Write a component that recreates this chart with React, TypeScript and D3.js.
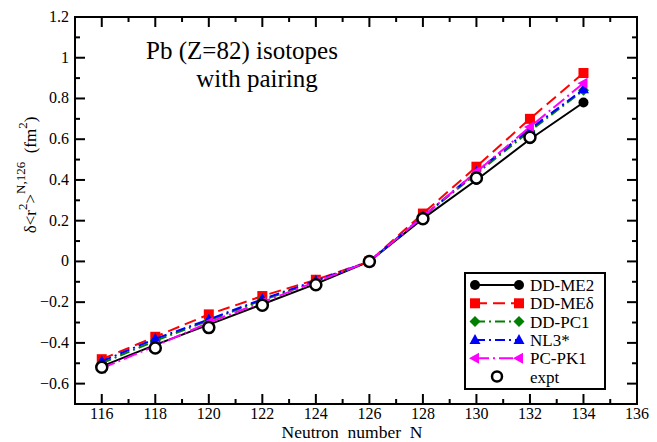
import React from "react";
import * as d3 from "d3";

const neutrons = [116, 118, 120, 122, 124, 126, 128, 130, 132, 134];
const ddme2 = [-0.515, -0.41, -0.31, -0.21, -0.11, 0, 0.21, 0.4, 0.6, 0.78];
const ddmed = [-0.48, -0.37, -0.26, -0.17, -0.09, 0, 0.235, 0.465, 0.7, 0.925];
const ddpc1 = [-0.5, -0.39, -0.29, -0.19, -0.1, 0, 0.22, 0.43, 0.64, 0.84];
const nl3s = [-0.49, -0.38, -0.285, -0.185, -0.095, 0, 0.22, 0.44, 0.65, 0.845];
const pcpk1 = [-0.525, -0.415, -0.3, -0.2, -0.1, 0, 0.22, 0.44, 0.66, 0.875];
const exptN = [116, 118, 120, 122, 124, 126, 128, 130, 132];
const expt = [-0.52, -0.425, -0.325, -0.215, -0.115, 0, 0.21, 0.41, 0.61];
const xTicks = [116, 118, 120, 122, 124, 126, 128, 130, 132, 134, 136];
const yTicks = [-0.6, -0.4, -0.2, 0, 0.2, 0.4, 0.6, 0.8, 1, 1.2];

type Series = { name: string; values: number[]; color: string; dash: string; marker: string };
const series: Series[] = [
  { name: "DD-ME2", values: ddme2, color: "#000000", dash: "", marker: "circle" },
  { name: "DD-MEδ", values: ddmed, color: "#ff0000", dash: "12,6", marker: "square" },
  { name: "DD-PC1", values: ddpc1, color: "#008000", dash: "10,4,2,4", marker: "diamond" },
  { name: "NL3*", values: nl3s, color: "#0000ff", dash: "10,4,2,4", marker: "triangle" },
  { name: "PC-PK1", values: pcpk1, color: "#ff00ff", dash: "14,4,2,4", marker: "left" },
];

const W = 657, H = 442;
const L = 75, R = 637, T = 17, B = 404;
const x = d3.scaleLinear().domain([115, 136]).range([L, R]);
const y = d3.scaleLinear().domain([-0.7, 1.2]).range([B, T]);

function Marker({ type, cx, cy, color }: { type: string; cx: number; cy: number; color: string }) {
  if (type === "circle") return <circle cx={cx} cy={cy} r={5} fill={color} />;
  if (type === "square") return <rect x={cx - 5} y={cy - 5} width={10} height={10} fill={color} />;
  if (type === "diamond") return <path d={`M${cx},${cy - 5.5}L${cx + 5.5},${cy}L${cx},${cy + 5.5}L${cx - 5.5},${cy}Z`} fill={color} />;
  if (type === "triangle") return <path d={`M${cx},${cy - 6}L${cx + 5.5},${cy + 4}L${cx - 5.5},${cy + 4}Z`} fill={color} />;
  if (type === "left") return <path d={`M${cx - 6},${cy}L${cx + 4},${cy - 5.5}L${cx + 4},${cy + 5.5}Z`} fill={color} />;
  return null;
}

export default function App() {
  const line = d3.line<[number, number]>().x((d) => x(d[0])).y((d) => y(d[1]));
  const xMinor = d3.range(115, 137, 1);
  const yMinor = d3.range(-7, 13).map((v) => v / 10);
  const font = "Liberation Serif, Times New Roman, serif";
  const legX = 465, legY = 273, legW = 140, legH = 116;
  const legendItems = [...series, { name: "expt", values: [], color: "#000", dash: "", marker: "expt" }];
  return (
    <svg width={W} height={H} style={{ position: "absolute", left: 0, top: 0, background: "#fff", fontFamily: font }}>
      <rect width={W} height={H} fill="#fff" />
      {series.map((s) => (
        <g key={s.name}>
          <path
            d={line(neutrons.map((n, i) => [n, s.values[i]] as [number, number])) || ""}
            fill="none"
            stroke={s.color}
            strokeWidth={2}
            strokeDasharray={s.dash || undefined}
          />
          {neutrons.map((n, i) => (
            <Marker key={n} type={s.marker} cx={x(n)} cy={y(s.values[i])} color={s.color} />
          ))}
        </g>
      ))}
      {exptN.map((n, i) => (
        <circle key={n} cx={x(n)} cy={y(expt[i])} r={5.5} fill="#fff" stroke="#000" strokeWidth={2.5} />
      ))}
      <rect x={L} y={T} width={R - L} height={B - T} fill="none" stroke="#000" strokeWidth={2} />
      {xMinor.map((v) => {
        const major = v % 2 === 0;
        const len = major ? 10 : 5;
        return (
          <g key={"x" + v}>
            <line x1={x(v)} x2={x(v)} y1={B} y2={B - len} stroke="#000" strokeWidth={2} />
            <line x1={x(v)} x2={x(v)} y1={T} y2={T + len} stroke="#000" strokeWidth={2} />
          </g>
        );
      })}
      {yMinor.map((v, i) => {
        const major = Math.round(v * 10) % 2 === 0;
        const len = major ? 10 : 5;
        return (
          <g key={"y" + i}>
            <line x1={L} x2={L + len} y1={y(v)} y2={y(v)} stroke="#000" strokeWidth={2} />
            <line x1={R} x2={R - len} y1={y(v)} y2={y(v)} stroke="#000" strokeWidth={2} />
          </g>
        );
      })}
      {xTicks.map((v) => (
        <text key={"xl" + v} x={x(v)} y={419} textAnchor="middle" fontSize={16}>
          {v}
        </text>
      ))}
      {yTicks.map((v) => (
        <text key={"yl" + v} x={L - 6} y={y(v) + 5} textAnchor="end" fontSize={16}>
          {d3.format("")(Math.round(v * 10) / 10)}
        </text>
      ))}
      <text x={352} y={438} textAnchor="middle" fontSize={17.5} xmlSpace="preserve">
        Neutron  number  N
      </text>
      <g transform={`translate(36, 175) rotate(-90)`}>
        <text textAnchor="middle" fontSize={17} xmlSpace="preserve">
          <tspan>δ&lt;r</tspan>
          <tspan dy={-9} fontSize={13}>2</tspan>
          <tspan dy={9}>&gt;</tspan>
          <tspan dy={-11} fontSize={13}>N,126</tspan>
          <tspan dy={11}>  (fm</tspan>
          <tspan dy={-9} fontSize={13}>2</tspan>
          <tspan dy={9}>)</tspan>
        </text>
      </g>
      <text x={242} y={59} textAnchor="middle" fontSize={25}>Pb (Z=82) isotopes</text>
      <text x={257} y={87} textAnchor="middle" fontSize={25}>with pairing</text>
      <rect x={legX} y={legY} width={legW} height={legH} fill="#fff" stroke="#000" strokeWidth={2} />
      {legendItems.map((s, i) => {
        const cy = legY + 12 + i * 18.3;
        return (
          <g key={"lg" + s.name}>
            {s.marker === "expt" ? (
              <circle cx={497} cy={cy} r={5} fill="#fff" stroke="#000" strokeWidth={2.5} />
            ) : (
              <>
                <line x1={475} x2={519} y1={cy} y2={cy} stroke={s.color} strokeWidth={2} strokeDasharray={s.dash || undefined} />
                <Marker type={s.marker} cx={475} cy={cy} color={s.color} />
                <Marker type={s.marker} cx={519} cy={cy} color={s.color} />
              </>
            )}
            <text x={530} y={cy + 6} fontSize={17}>
              {s.name}
            </text>
          </g>
        );
      })}
    </svg>
  );
}
